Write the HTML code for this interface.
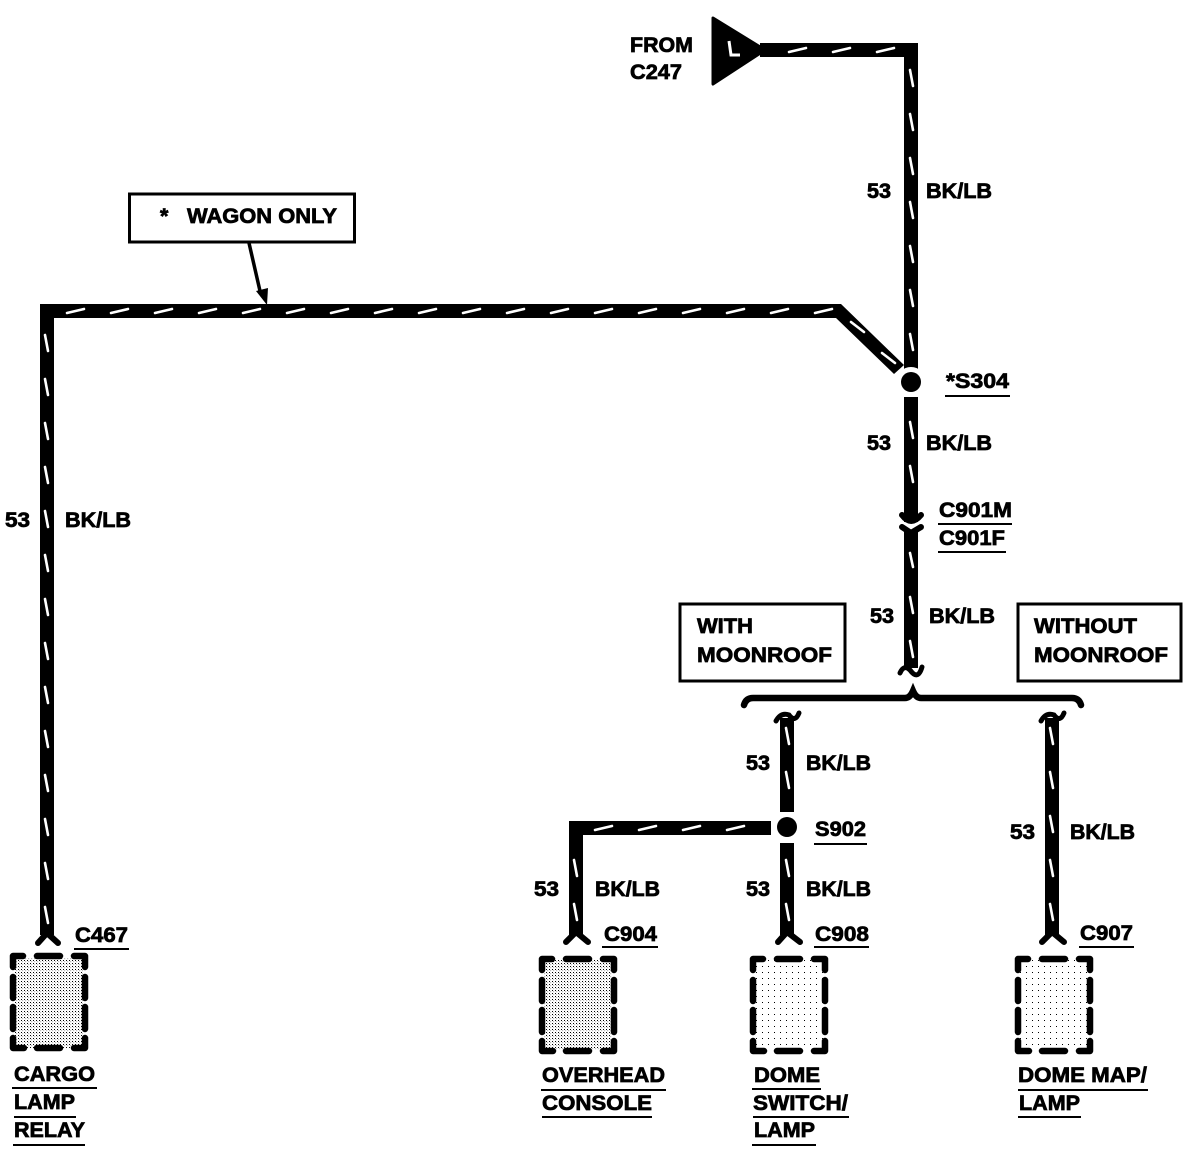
<!DOCTYPE html>
<html><head><meta charset="utf-8"><style>
html,body{margin:0;padding:0;background:#fff}
svg{display:block}
text{font-family:"Liberation Sans",sans-serif;font-weight:bold;font-size:21.5px;fill:#000;stroke:#000;stroke-width:.75}
</style></head><body>
<svg width="1188" height="1152" viewBox="0 0 1188 1152" xmlns="http://www.w3.org/2000/svg">
<defs>
<pattern id="d1" width="3" height="3" patternUnits="userSpaceOnUse"><rect width="3" height="3" fill="#fff"/><rect width="1" height="1" fill="#000"/><rect x="1.5" y="1.5" width=".6" height=".6" fill="#000"/></pattern>
<pattern id="d2" width="6" height="6" patternUnits="userSpaceOnUse"><rect width="6" height="6" fill="#fff"/><rect width="1" height="1" fill="#000"/></pattern>
<g id="bx" fill="none" stroke="#000" stroke-width="6.500" stroke-linecap="round" stroke-linejoin="round">
<path d="M3 14V3H13M27 3H50M64 3H75V14M3 24V45M3 54V76M3 85V95H14M27 95H50M64 95H75V85M75 24V45M75 54V76"/>
</g>
</defs>

<!-- wires -->
<g fill="none" stroke="#000" stroke-width="14">
<path d="M760 50H911V372"/>
<path d="M911 397V522"/>
<path d="M911 530V668"/>
<path d="M47 935V311H839"/>
<path d="M787 718V812"/>
<path d="M787 843V935"/>
<path d="M771 828H576V935"/>
<path d="M1052 718V935"/>
</g>
<polygon points="837,304 841,304 904,365 894,374 836,318" fill="#000"/>

<!-- tracer dashes -->
<path fill="none" stroke="#fff" stroke-width="2.600" stroke-linecap="round" d="
M789 52l17-4M833 52l17-4M877 52l17-4
M910 70l3 16M910 114l3 16M910 158l3 16M910 202l3 16M910 246l3 16M910 290l3 16M910 334l3 16
M910 422l3 16M910 466l3 16M910 553l3 14M910 597l3 16M910 641l3 16
M67 313l17-4M111 313l17-4M155 313l17-4M199 313l17-4M243 313l17-4M287 313l17-4M331 313l17-4M375 313l17-4M419 313l17-4M463 313l17-4M507 313l17-4M551 313l17-4M595 313l17-4M639 313l17-4M683 313l17-4M727 313l17-4M771 313l17-4M815 313l17-4
M851 322l13 10M882 353l13 10
M45 335l3 16M45 379l3 16M45 423l3 16M45 467l3 16M45 511l3 16M45 555l3 16M45 599l3 16M45 643l3 16M45 687l3 16M45 731l3 16M45 775l3 16M45 819l3 16M45 863l3 16M45 907l3 16
M595 830l17-4M639 830l17-4M683 830l17-4M727 830l17-4
M574 860l3 16M574 904l3 16
M786 728l3 16M786 772l3 16M786 860l3 16M786 904l3 16
M1050 728l3 16M1050 772l3 16M1050 816l3 16M1050 860l3 16M1050 904l3 16"/>

<!-- source triangle -->
<path d="M713 18L765 50L713 84Z" fill="#000" stroke="#000" stroke-width="3" stroke-linejoin="round"/>
<path d="M729 41L731 55H740" fill="none" stroke="#fff" stroke-width="3"/>

<!-- splices -->
<circle cx="911" cy="382" r="15" fill="#fff"/>
<circle cx="911" cy="382" r="10" fill="#000"/>
<circle cx="787" cy="827" r="10" fill="#000"/>

<!-- connectors -->
<g fill="none" stroke="#000" stroke-width="6" stroke-linecap="round">
<path d="M902 515Q911 527 921 515"/>
<path d="M902 527L911 533L921 527"/>
<path d="M38 943L47 933L58 943"/>
<path d="M566 942L576 932L588 942"/>
<path d="M778 942L787 932L800 942"/>
<path d="M1042 942L1052 932L1064 942"/>
</g>
<g fill="none" stroke="#000" stroke-width="5" stroke-linecap="round">
<path d="M900 673Q904 664 910 670Q918 681 922 667"/>
<path d="M776 721Q781 712 789 715Q795 723 799 713"/>
<path d="M1041 721Q1046 712 1054 715Q1060 723 1064 713"/>
</g>

<!-- brace -->
<path d="M744 705Q746 698 753 698H905Q910 698 913 691Q916 698 921 698H1072Q1079 698 1081 705" fill="none" stroke="#000" stroke-width="6.500" stroke-linecap="round"/>

<!-- label boxes -->
<g fill="#fff" stroke="#000" stroke-width="3">
<rect x="129.500" y="194" width="225" height="48"/>
<rect x="680" y="604" width="165" height="77"/>
<rect x="1018" y="604" width="163" height="77"/>
</g>
<path d="M249 243L260 291" stroke="#000" stroke-width="3.500" fill="none"/>
<polygon points="256,291 268,288 267,305" fill="#000"/>

<!-- components -->
<rect x="15" y="958" width="68" height="90" fill="url(#d1)"/>
<rect x="544" y="960" width="68" height="90" fill="url(#d1)"/>
<rect x="755" y="960" width="68" height="90" fill="url(#d2)"/>
<rect x="1020" y="960" width="68" height="90" fill="url(#d2)"/>
<use href="#bx" x="10" y="953"/>
<use href="#bx" x="539" y="956"/>
<use href="#bx" x="750" y="956"/>
<use href="#bx" x="1015" y="956"/>

<!-- underlines -->
<g stroke="#000" stroke-width="2" fill="none">
<path d="M945 396H1010M938 524H1012M938 552H1006M814 844H867M602 947H658M814 947H869M1079 947H1134M74 949H129"/>
<path d="M12 1088H97M14 1117H76M13 1145H85"/>
<path d="M541 1090H666M542 1117H652"/>
<path d="M752 1089H821M753 1117H849M752 1145H816"/>
<path d="M1018 1090H1148M1018 1117H1081"/>
</g>

<!-- text -->
<text x="630" y="52" textLength="63" lengthAdjust="spacingAndGlyphs">FROM</text>
<text x="630" y="79" textLength="52" lengthAdjust="spacingAndGlyphs">C247</text>
<text x="867" y="198" textLength="24" lengthAdjust="spacingAndGlyphs">53</text>
<text x="926" y="198" textLength="66" lengthAdjust="spacingAndGlyphs">BK/LB</text>
<text x="160" y="223">*</text>
<text x="187" y="223" textLength="150" lengthAdjust="spacingAndGlyphs">WAGON ONLY</text>
<text x="946" y="388" textLength="63" lengthAdjust="spacingAndGlyphs">*S304</text>
<text x="867" y="450" textLength="24" lengthAdjust="spacingAndGlyphs">53</text>
<text x="926" y="450" textLength="66" lengthAdjust="spacingAndGlyphs">BK/LB</text>
<text x="939" y="517" textLength="73" lengthAdjust="spacingAndGlyphs">C901M</text>
<text x="939" y="545" textLength="66" lengthAdjust="spacingAndGlyphs">C901F</text>
<text x="870" y="623" textLength="24" lengthAdjust="spacingAndGlyphs">53</text>
<text x="929" y="623" textLength="66" lengthAdjust="spacingAndGlyphs">BK/LB</text>
<text x="697" y="633" textLength="56" lengthAdjust="spacingAndGlyphs">WITH</text>
<text x="697" y="662" textLength="135" lengthAdjust="spacingAndGlyphs">MOONROOF</text>
<text x="1034" y="633" textLength="103" lengthAdjust="spacingAndGlyphs">WITHOUT</text>
<text x="1034" y="662" textLength="134" lengthAdjust="spacingAndGlyphs">MOONROOF</text>
<text x="5" y="527" textLength="25" lengthAdjust="spacingAndGlyphs">53</text>
<text x="65" y="527" textLength="66" lengthAdjust="spacingAndGlyphs">BK/LB</text>
<text x="746" y="770" textLength="24" lengthAdjust="spacingAndGlyphs">53</text>
<text x="806" y="770" textLength="65" lengthAdjust="spacingAndGlyphs">BK/LB</text>
<text x="815" y="836" textLength="51" lengthAdjust="spacingAndGlyphs">S902</text>
<text x="1010" y="839" textLength="25" lengthAdjust="spacingAndGlyphs">53</text>
<text x="1070" y="839" textLength="65" lengthAdjust="spacingAndGlyphs">BK/LB</text>
<text x="534" y="896" textLength="25" lengthAdjust="spacingAndGlyphs">53</text>
<text x="595" y="896" textLength="65" lengthAdjust="spacingAndGlyphs">BK/LB</text>
<text x="746" y="896" textLength="24" lengthAdjust="spacingAndGlyphs">53</text>
<text x="806" y="896" textLength="65" lengthAdjust="spacingAndGlyphs">BK/LB</text>
<text x="75" y="942" textLength="53" lengthAdjust="spacingAndGlyphs">C467</text>
<text x="604" y="941" textLength="53" lengthAdjust="spacingAndGlyphs">C904</text>
<text x="815" y="941" textLength="54" lengthAdjust="spacingAndGlyphs">C908</text>
<text x="1080" y="940" textLength="53" lengthAdjust="spacingAndGlyphs">C907</text>
<text x="14" y="1081" textLength="81" lengthAdjust="spacingAndGlyphs">CARGO</text>
<text x="14" y="1109" textLength="61" lengthAdjust="spacingAndGlyphs">LAMP</text>
<text x="14" y="1137" textLength="71" lengthAdjust="spacingAndGlyphs">RELAY</text>
<text x="542" y="1082" textLength="123" lengthAdjust="spacingAndGlyphs">OVERHEAD</text>
<text x="542" y="1110" textLength="110" lengthAdjust="spacingAndGlyphs">CONSOLE</text>
<text x="754" y="1082" textLength="66" lengthAdjust="spacingAndGlyphs">DOME</text>
<text x="753" y="1110" textLength="95" lengthAdjust="spacingAndGlyphs">SWITCH/</text>
<text x="754" y="1137" textLength="61" lengthAdjust="spacingAndGlyphs">LAMP</text>
<text x="1018" y="1082" textLength="129" lengthAdjust="spacingAndGlyphs">DOME MAP/</text>
<text x="1019" y="1110" textLength="61" lengthAdjust="spacingAndGlyphs">LAMP</text>
</svg>
</body></html>
